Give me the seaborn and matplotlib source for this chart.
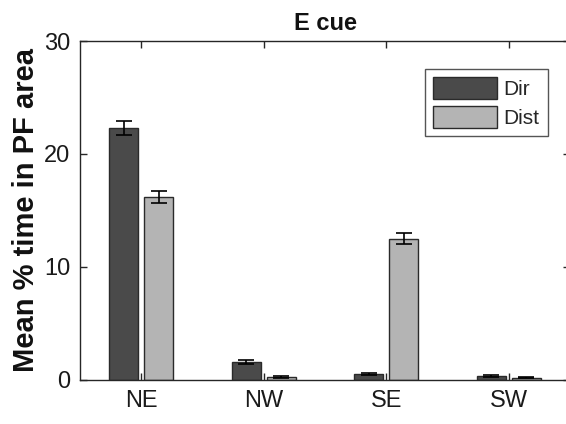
import pandas as pd
import seaborn as sns
import matplotlib.pyplot as plt

regions = ["NE", "NW", "SE", "SW"]
dir_mean = [22.3, 1.6, 0.55, 0.35]
dir_sem = [0.65, 0.15, 0.1, 0.08]
dist_mean = [16.2, 0.3, 12.5, 0.2]
dist_sem = [0.5, 0.08, 0.5, 0.06]
groups = ["Dir", "Dist"]
colors = ["#4a4a4a", "#b4b4b4"]


def main():
    df = pd.DataFrame({
        "region": regions * 2,
        "group": [groups[0]] * 4 + [groups[1]] * 4,
        "mean": dir_mean + dist_mean,
        "sem": dir_sem + dist_sem,
    })

    sns.set_theme(style="ticks")
    plt.rcParams["font.family"] = ["Liberation Sans", "DejaVu Sans"]

    fig = plt.figure(figsize=(5.66, 4.24), dpi=100)
    ax = fig.add_axes([0.1413, 0.1038, 0.866, 0.7995])

    sns.barplot(data=df, x="region", y="mean", hue="group", order=regions,
                hue_order=groups, palette=colors, errorbar=None,
                width=0.57, gap=0.17, edgecolor="#2a2a2a", linewidth=1.0,
                saturation=1, ax=ax)

    # error bars on top of the bars seaborn drew
    for cont, g in zip(ax.containers, groups):
        sub = df[df["group"] == g].set_index("region").loc[regions]
        xs = [p.get_x() + p.get_width() / 2 for p in cont.patches]
        ax.errorbar(xs, sub["mean"], yerr=sub["sem"], fmt="none",
                    ecolor="black", elinewidth=1.2, capsize=6, capthick=1.2)

    ax.set_xlim(-0.5, 3.5)
    ax.set_ylim(0, 30)
    ax.set_yticks([0, 10, 20, 30])
    ax.set_xlabel("")
    ax.set_ylabel("Mean % time in PF area", fontsize=21, fontweight="bold",
                  labelpad=3, color="#111111")
    ax.set_title("E cue", fontsize=17, fontweight="bold", pad=8,
                 color="#111111")

    for s in ax.spines.values():
        s.set_visible(True)
        s.set_color("#262626")
        s.set_linewidth(1.0)
    ax.tick_params(direction="in", length=5, width=1, color="#262626",
                   labelsize=17, top=True, right=True, labelcolor="#1a1a1a")
    ax.tick_params(axis="x", pad=7)
    ax.tick_params(axis="y", pad=7)

    leg = ax.legend(loc="upper right", bbox_to_anchor=(548 / 566, 1 - 69 / 424),
                    bbox_transform=fig.transFigure, borderaxespad=0,
                    fontsize=15, handlelength=3.1, handleheight=1.25,
                    handletextpad=0.3, labelspacing=0.3, borderpad=0.4,
                    fancybox=False, frameon=True, edgecolor="#555555",
                    framealpha=1)
    leg.get_frame().set_linewidth(1.0)

    plt.savefig("out.png", dpi=100)


if __name__ == "__main__":
    main()
